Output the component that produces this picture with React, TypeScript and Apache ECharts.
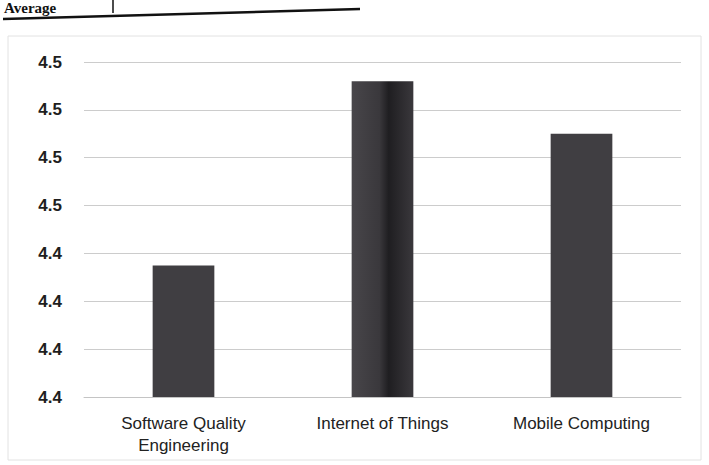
import React, { useEffect, useRef } from "react";
import * as echarts from "echarts";

const categories = ["Software Quality\nEngineering", "Internet of Things", "Mobile Computing"];
const averages = [4.435, 4.512, 4.49];
const axisMin = 4.38;
const axisMax = 4.52;
const axisStep = 0.02;
const titleText = "Average";

export default function App() {
  const ref = useRef<HTMLDivElement>(null);
  useEffect(() => {
    if (!ref.current) return;
    const chart = echarts.init(ref.current, undefined, { renderer: "svg" });
    const barColors = [
      "#403e42",
      new echarts.graphic.LinearGradient(0, 0, 1, 0, [
        { offset: 0, color: "#48464a" },
        { offset: 0.45, color: "#3a383c" },
        { offset: 0.6, color: "#1f1e21" },
        { offset: 1, color: "#3a383c" },
      ]),
      "#403e42",
    ];
    chart.setOption({
      animation: false,
      backgroundColor: "#ffffff",
      grid: { left: 84, right: 28, top: 62, bottom: 68 },
      xAxis: {
        type: "category",
        data: categories,
        axisTick: { show: false },
        axisLine: { show: true, lineStyle: { color: "#c4c4c4", width: 1 } },
        axisLabel: {
          color: "#222222",
          fontFamily: "Liberation Sans, Arial, sans-serif",
          fontSize: 17,
          lineHeight: 22,
          margin: 15,
          interval: 0,
        },
      },
      yAxis: {
        type: "value",
        min: axisMin,
        max: axisMax,
        interval: axisStep,
        axisLine: { show: false },
        axisTick: { show: false },
        splitLine: { show: true, lineStyle: { color: "#cccccc", width: 1 } },
        axisLabel: {
          color: "#1e1e1e",
          fontFamily: "Liberation Sans, Arial, sans-serif",
          fontSize: 17,
          fontWeight: "bold",
          margin: 22,
          formatter: (v: number) => v.toFixed(1),
        },
      },
      series: [
        {
          type: "bar",
          barWidth: "31%",
          data: averages.map((v, i) => ({ value: v, itemStyle: { color: barColors[i] } })),
        },
      ],
      graphic: [
        {
          type: "rect",
          shape: { x: 8, y: 36, width: 693, height: 424 },
          style: { fill: "none", stroke: "#e2e2e2", lineWidth: 1 },
          silent: true,
        },
        {
          type: "text",
          x: 4,
          y: 0,
          style: {
            text: titleText,
            font: "bold 15px 'Liberation Serif', serif",
            fill: "#111111",
            textVerticalAlign: "top",
          },
        },
        {
          type: "line",
          shape: { x1: 113, y1: 0, x2: 113, y2: 13 },
          style: { stroke: "#111111", lineWidth: 1.5 },
        },
        {
          type: "line",
          shape: { x1: 3, y1: 19, x2: 360, y2: 9 },
          style: { stroke: "#111111", lineWidth: 2.5 },
        },
      ],
    });
    return () => chart.dispose();
  }, []);
  return <div ref={ref} style={{ width: 709, height: 465, position: "absolute", left: 0, top: 0 }} />;
}
